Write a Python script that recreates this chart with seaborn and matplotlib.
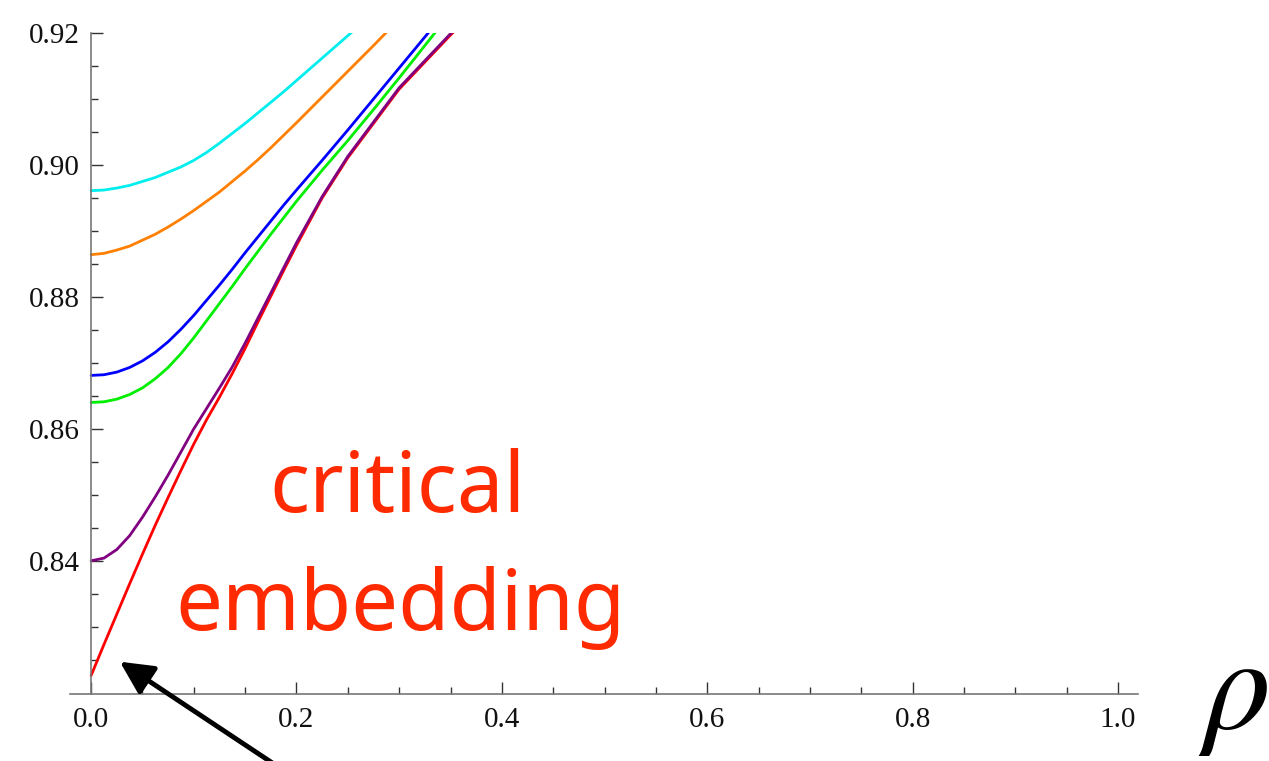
"""
Mathematica-style curves vs rho, with 'critical embedding' annotation
"""
import numpy as np
import pandas as pd
import matplotlib.pyplot as plt
import matplotlib.ticker as mtick
import seaborn as sns

## Data
rho = [0.0, 0.0125, 0.025, 0.0375, 0.05, 0.0625, 0.075, 0.0875, 0.1,
       0.1125, 0.125, 0.1375, 0.15, 0.1625, 0.175, 0.1875, 0.2,
       0.225, 0.25, 0.275, 0.3, 0.325, 0.35, 0.375]

red = [0.8226, 0.8273, 0.8319, 0.8365, 0.8410, 0.8454, 0.8496, 0.8537, 0.8577,
       0.8614, 0.8648, 0.8684, 0.8722, 0.8762, 0.8801, 0.8840, 0.8878,
       0.8950, 0.9011, 0.9063, 0.9115, 0.9156, 0.9197, 0.9236]
purple = [0.8400, 0.8404, 0.8417, 0.8438, 0.8466, 0.8497, 0.8530, 0.8565, 0.8600,
          0.8631, 0.8662, 0.8694, 0.8730, 0.8768, 0.8806, 0.8844, 0.8882,
          0.8952, 0.9013, 0.9065, 0.9117, 0.9158, 0.9199, 0.9238]
green = [0.8640, 0.8641, 0.8645, 0.8652, 0.8662, 0.8676, 0.8693, 0.8714, 0.8738,
         0.8764, 0.8790, 0.8816, 0.8843, 0.8869, 0.8895, 0.8920, 0.8945,
         0.8992, 0.9037, 0.9084, 0.9132, 0.9181, 0.9230]
blue = [0.8681, 0.8682, 0.8686, 0.8693, 0.8703, 0.8716, 0.8732, 0.8751, 0.8772,
        0.8795, 0.8818, 0.8842, 0.8867, 0.8891, 0.8915, 0.8939, 0.8962,
        0.9007, 0.9053, 0.9100, 0.9147, 0.9194, 0.9241]
orange = [0.8864, 0.8866, 0.8871, 0.8877, 0.8886, 0.8895, 0.8906, 0.8918, 0.8931,
          0.8945, 0.8959, 0.8975, 0.8991, 0.9008, 0.9026, 0.9045, 0.9064,
          0.9103, 0.9142, 0.9181, 0.9221]
cyan = [0.8961, 0.8962, 0.8965, 0.8969, 0.8975, 0.8981, 0.8989, 0.8997, 0.9007,
        0.9019, 0.9033, 0.9048, 0.9063, 0.9079, 0.9095, 0.9111, 0.9128,
        0.9162, 0.9196, 0.9230]

y_major = [0.84, 0.86, 0.88, 0.90, 0.92]
x_major = [0.0, 0.2, 0.4, 0.6, 0.8, 1.0]

series = [('red', red, '#ff0000'), ('purple', purple, '#800080'),
          ('green', green, '#00ee00'), ('blue', blue, '#0000ff'),
          ('orange', orange, '#ff8000'), ('cyan', cyan, '#00eeee')]

sns.set_theme(style='white')
plt.rcParams['font.family'] = ['Liberation Serif', 'DejaVu Serif']
plt.rcParams['mathtext.fontset'] = 'stix'

fig = plt.figure(figsize=(12.69, 7.61), dpi=100)
ax = fig.add_axes([0.0552, 0.0880, 0.8416, 0.8686])

for name, vals, col in series:
    df = pd.DataFrame({'rho': rho[:len(vals)], 'val': vals})
    sns.lineplot(data=df, x='rho', y='val', color=col, lw=2.0, ax=ax,
                 estimator=None, sort=False)

ax.set_xlim(-0.0205, 1.0195)
ax.set_ylim(0.8198, 0.92)
ax.set_xlabel('')
ax.set_ylabel('')

# axes look
for s in ['top', 'right']:
    ax.spines[s].set_visible(False)
ax.spines['left'].set_position(('data', 0))
for s in ['left', 'bottom']:
    ax.spines[s].set_color('#777777')
    ax.spines[s].set_linewidth(1.2)

ax.set_xticks(x_major)
ax.set_yticks(y_major)
ax.xaxis.set_minor_locator(mtick.MultipleLocator(0.05))
ax.set_yticks(np.arange(0.825, 0.9201, 0.005), minor=True)
ax.xaxis.set_major_formatter(mtick.FormatStrFormatter('%.1f'))
ax.yaxis.set_major_formatter(mtick.FormatStrFormatter('%.2f'))
ax.tick_params(which='both', direction='in', color='#333333', width=1.0,
               bottom=True, left=True, top=False, right=False)
ax.tick_params(which='major', length=8.5, labelsize=21, labelcolor='#111111')
ax.tick_params(which='minor', length=5)
ax.tick_params(axis='y', pad=8)
ax.tick_params(axis='x', pad=9)

# labels and annotation
fig.text(1233 / 1269, (761 - 697) / 761, r'$\rho$',
         fontsize=96, ha='center', va='center', color='black')
fig.text(398 / 1269, (761 - 512) / 761, 'critical', color='#ff2a00',
         fontsize=60, ha='center', va='baseline',
         family=['Noto Sans', 'DejaVu Sans'])
fig.text(400 / 1269, (761 - 630) / 761, 'embedding', color='#ff2a00',
         fontsize=60, ha='center', va='baseline',
         family=['Noto Sans', 'DejaVu Sans'])

ax.annotate('', xy=(0.028, 0.8247), xytext=(0.177, 0.8093),
            arrowprops=dict(arrowstyle='-|>', color='black', lw=3.5,
                            mutation_scale=50, shrinkA=0, shrinkB=0),
            annotation_clip=False)

plt.savefig('out.png', dpi=100)
